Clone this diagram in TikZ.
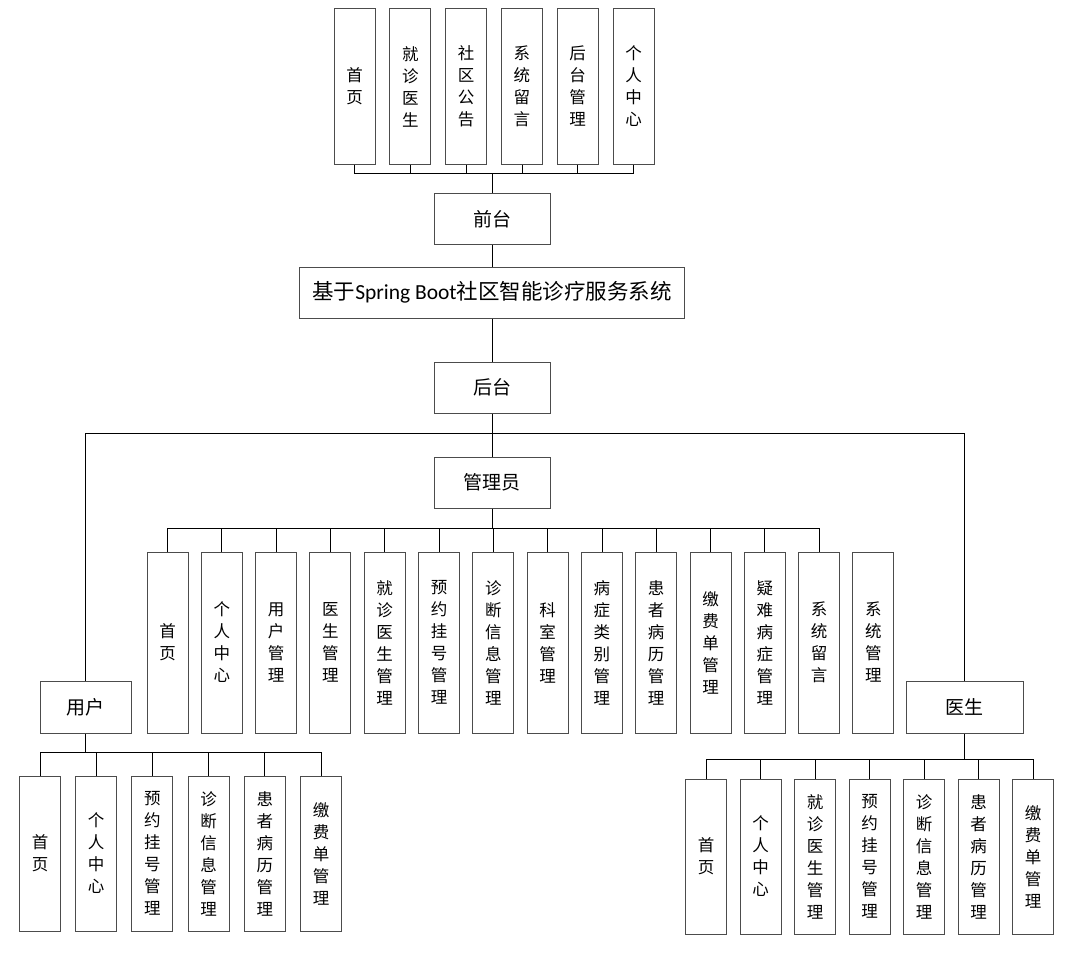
\documentclass[tikz,border=0pt]{standalone}
\usepackage{fontspec}
\usepackage{tikz}
\newfontfamily\cjk{Noto Sans CJK SC}
\newfontfamily\lat{Carlito}
\tikzset{
  vbox/.style={draw=black!70, line width=1pt, minimum width=41pt, minimum height=155pt,
    inner sep=0pt, align=center, font=\cjk\fontsize{16.5}{22}\selectfont},
  hbox/.style={draw=black!70, line width=1pt, minimum width=116pt, minimum height=51pt,
    inner sep=0pt, font=\cjk\fontsize{19}{22}\selectfont},
  wire/.style={draw=black, line width=0.8pt}
}

\begin{document}
\begin{tikzpicture}[x=1pt,y=-1pt]
\useasboundingbox (0,0) rectangle (1070,958);
% top level
\node[hbox] (qt) at (492,219) {前台};
\node[hbox, minimum width=385pt, font=\cjk\fontsize{21.5}{24}\selectfont] (sys) at (492,292.5) {基于{\lat Spring Boot}社区智能诊疗服务系统};
\node[hbox] (ht) at (492,387.5) {后台};
\node[hbox] (gly) at (492,482.5) {管理员};
\node[hbox, minimum width=91pt, minimum height=52pt] (yh) at (85.5,707) {用户};
\node[hbox, minimum width=117pt, minimum height=52pt] (ys) at (964.5,707) {医生};
\coordinate (qbus) at (492,173);
\coordinate (hbus) at (492,433);
\coordinate (abus) at (492,528);
\coordinate (ubus) at (85.5,752);
\coordinate (dbus) at (964.5,759);
% front end
\foreach \t [count=\i] in {{首\\页},{就\\诊\\医\\生},{社\\区\\公\\告},{系\\统\\留\\言},{后\\台\\管\\理},{个\\人\\中\\心}}
  \node[vbox] (q\i) at ({354.5+55.8*(\i-1)},86.5) {\t};
\foreach \i in {1,...,6}
  \draw[wire] (q\i.south) |- (qbus);
\draw[wire] (qbus) -- (qt.north);
\draw[wire] (qt.south) -- (sys.north);
\draw[wire] (sys.south) -- (ht.north);
\draw[wire] (ht.south) -- (gly.north);
\draw[wire] (yh.north) |- (hbus);
\draw[wire] (ys.north) |- (hbus);
% admin
\foreach \t [count=\i] in {{首\\页},{个\\人\\中\\心},{用\\户\\管\\理},{医\\生\\管\\理},{就\\诊\\医\\生\\管\\理},
  {预\\约\\挂\\号\\管\\理},{诊\\断\\信\\息\\管\\理},{科\\室\\管\\理},{病\\症\\类\\别\\管\\理},{患\\者\\病\\历\\管\\理},
  {缴\\费\\单\\管\\理},{疑\\难\\病\\症\\管\\理},{系\\统\\留\\言},{系\\统\\管\\理}}
  \node[vbox, minimum height=181pt] (a\i) at ({167.5+54.3*(\i-1)},642.5) {\t};
\foreach \i in {1,...,13}
  \draw[wire] (a\i.north) |- (abus);
\draw[wire] (gly.south) -- (abus);
% user
\foreach \t [count=\i] in {{首\\页},{个\\人\\中\\心},{预\\约\\挂\\号\\管\\理},{诊\\断\\信\\息\\管\\理},{患\\者\\病\\历\\管\\理},{缴\\费\\单\\管\\理}}
  \node[vbox] (u\i) at ({40+56.2*(\i-1)},853.5) {\t};
\foreach \i in {1,...,6}
  \draw[wire] (u\i.north) |- (ubus);
\draw[wire] (yh.south) -- (ubus);
% doctor
\foreach \t [count=\i] in {{首\\页},{个\\人\\中\\心},{就\\诊\\医\\生\\管\\理},{预\\约\\挂\\号\\管\\理},{诊\\断\\信\\息\\管\\理},{患\\者\\病\\历\\管\\理},{缴\\费\\单\\管\\理}}
  \node[vbox] (d\i) at ({706+54.5*(\i-1)},856.5) {\t};
\foreach \i in {1,...,7}
  \draw[wire] (d\i.north) |- (dbus);
\draw[wire] (ys.south) -- (dbus);
\end{tikzpicture}
\end{document}
